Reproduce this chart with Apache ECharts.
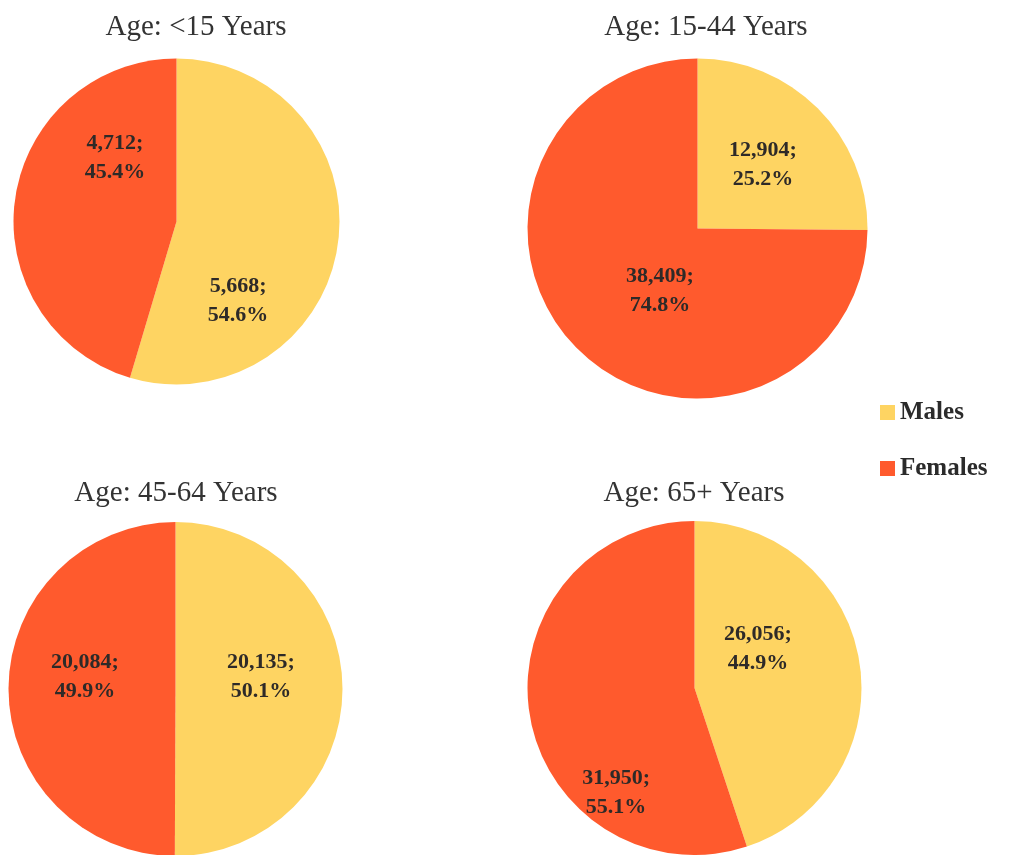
<!DOCTYPE html>
<html>
<head>
<meta charset="utf-8">
<style>
  html, body { margin: 0; padding: 0; background: #ffffff; }
  #chart { width: 1009px; height: 855px; }
</style>
<script src="https://cdn.jsdelivr.net/npm/echarts@6/dist/echarts.min.js"></script>
</head>
<body>
<div id="chart"></div>
<script>
// ---- Data ----
const ageGroups = ['Age: <15 Years', 'Age: 15-44 Years', 'Age: 45-64 Years', 'Age: 65+ Years'];
const sexes = ['Males', 'Females'];
const males = [5668, 12904, 20135, 26056];
const females = [4712, 38409, 20084, 31950];
const malePct = ['54.6%', '25.2%', '50.1%', '44.9%'];
const femalePct = ['45.4%', '74.8%', '49.9%', '55.1%'];

// ---- Layout / style (kept separate from data) ----
const colors = { Males: '#FED462', Females: '#FF5A2D' };
const serif = "'Liberation Serif', 'Times New Roman', Times, serif";
const pieLayout = [
  { center: [176.5, 221.5], radius: 163, title: [196, 27], shift: [[-22, 67], [22, -52]] },
  { center: [697.5, 228.5], radius: 170, title: [706, 27], shift: [[3, -2], [25, 0]] },
  { center: [175.5, 689], radius: 167, title: [176, 493], shift: [[-1, -12], [-4, -12]] },
  { center: [694.5, 688], radius: 167, title: [694, 493], shift: [[-22, -25], [7, 91]] }
];

function fmt(n) { return n.toLocaleString('en-US'); }

const series = ageGroups.map(function (name, i) {
  const lay = pieLayout[i];
  return {
    type: 'pie',
    name: name,
    center: lay.center,
    radius: lay.radius,
    startAngle: 90,
    clockwise: true,
    avoidLabelOverlap: false,
    silent: true,
    animation: false,
    label: {
      show: true,
      position: 'inside',
      fontFamily: serif,
      fontWeight: 'bold',
      fontSize: 22,
      lineHeight: 29,
      color: '#2e2a28',
      align: 'center'
    },
    labelLine: { show: false },
    labelLayout: function (p) {
      const s = lay.shift[p.dataIndex];
      return { dx: s[0], dy: s[1] };
    },
    itemStyle: { borderWidth: 0 },
    data: [
      { name: sexes[0], value: males[i], itemStyle: { color: colors.Males },
        label: { formatter: fmt(males[i]) + ';\n' + malePct[i] } },
      { name: sexes[1], value: females[i], itemStyle: { color: colors.Females },
        label: { formatter: fmt(females[i]) + ';\n' + femalePct[i] } }
    ]
  };
});

const titles = ageGroups.map(function (name, i) {
  const t = pieLayout[i].title;
  return {
    type: 'text',
    x: t[0],
    y: t[1],
    style: {
      text: name,
      font: '29px ' + serif,
      fill: '#333333',
      align: 'center',
      verticalAlign: 'middle',
      textAlign: 'center',
      textVerticalAlign: 'middle'
    }
  };
});

const chart = echarts.init(document.getElementById('chart'), null, { renderer: 'canvas' });
chart.setOption({
  backgroundColor: '#ffffff',
  animation: false,
  graphic: titles,
  legend: {
    data: sexes,
    orient: 'vertical',
    left: 875,
    top: 395,
    icon: 'rect',
    itemWidth: 15,
    itemHeight: 15,
    itemGap: 31,
    selectedMode: false,
    textStyle: {
      fontFamily: serif,
      fontWeight: 'bold',
      fontSize: 25,
      color: '#2b2b2b'
    }
  },
  series: series
});
</script>
</body>
</html>
